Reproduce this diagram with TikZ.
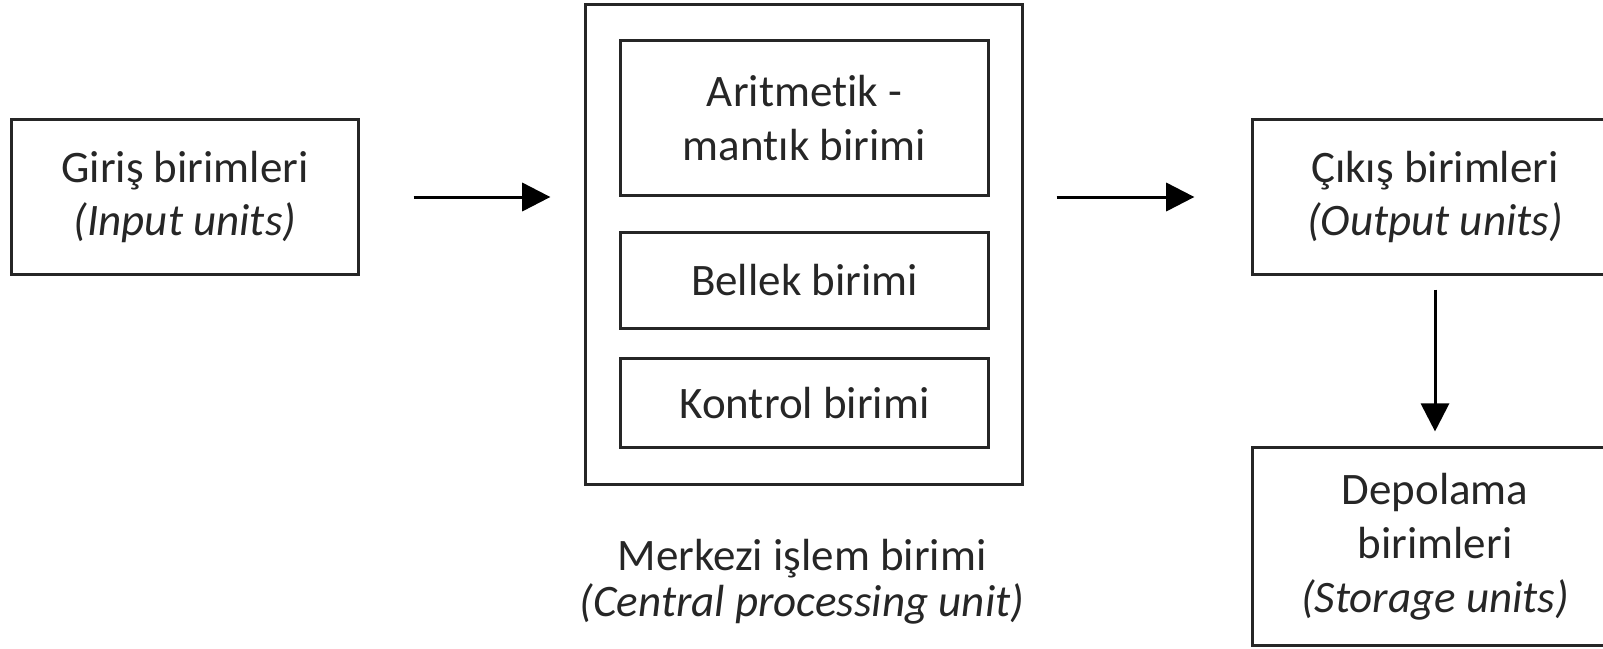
\documentclass[tikz,border=0pt]{standalone}
\usepackage{fontspec}
\setmainfont[Ligatures=NoCommon]{Carlito}
\usepackage{xcolor}
\usetikzlibrary{arrows.meta}

\begin{document}
\begin{tikzpicture}[
  x=0.01cm, y=-0.01cm,
  unit/.style={draw=black!85, line width=0.85pt, minimum width=3.46cm, minimum height=1.54cm, align=center, text=black!85, font=\fontsize{12.8}{15.3}\selectfont},
  part/.style={unit, minimum width=3.67cm},
  edge/.style={-{Triangle[length=8pt, width=8pt]}, line width=0.85pt, draw=black}
]
\clip (0,0) rectangle (1603,648);

\node[unit] (input) at (185,197) {Giriş birimleri\\\textit{(Input units)}};

\node[unit, minimum width=4.36cm, minimum height=4.79cm] (cpu) at (804,244.5) {};
\node[part] (alu) at (804.5,118) {Aritmetik -\\mantık birimi};
\node[part, minimum height=0.95cm] (memory) at (804.5,280.5) {Bellek birimi};
\node[part, minimum height=0.88cm] (control) at (804.5,403) {Kontrol birimi};
\node[align=center, text=black!85, font=\fontsize{12.8}{13}\selectfont] (cpulabel) at (802,582) {Merkezi işlem birimi\\\textit{(Central processing unit)}};

\node[unit, minimum width=3.64cm] (output) at (1435,197) {Çıkış birimleri\\\textit{(Output units)}};
\node[unit, minimum width=3.64cm, minimum height=1.97cm] (storage) at (1435,546.5) {Depolama\\birimleri\\\textit{(Storage units)}};

\draw[edge, shorten <=0.54cm, shorten >=0.34cm] (input.east) -- (cpu.west |- input.east);
\draw[edge, shorten <=0.33cm, shorten >=0.57cm] (cpu.east |- output.west) -- (output.west);
\draw[edge, shorten <=0.14cm, shorten >=0.15cm] (output.south) -- (storage.north);
\end{tikzpicture}
\end{document}
